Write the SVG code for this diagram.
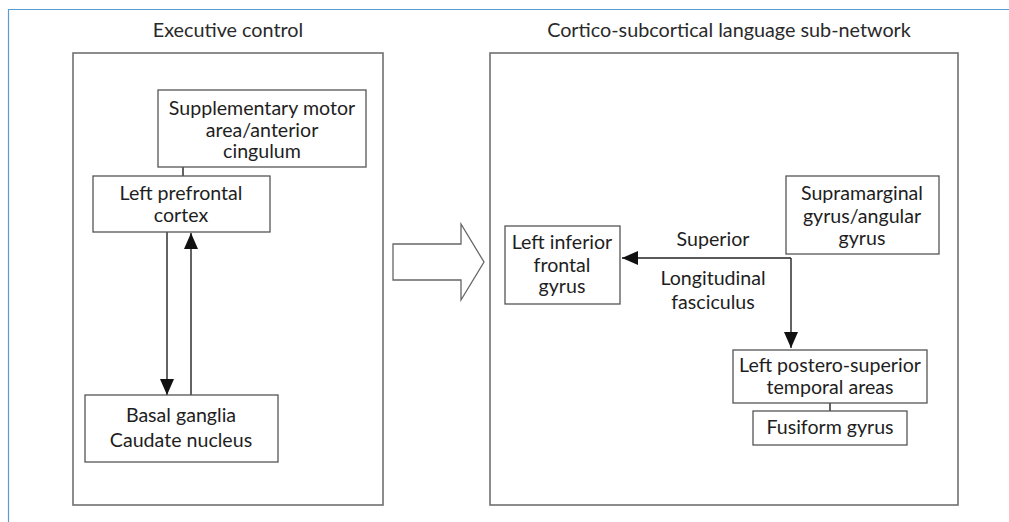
<svg xmlns="http://www.w3.org/2000/svg" width="1009" height="522" viewBox="0 0 1009 522">
  <style>
    .frame { fill: none; stroke: #5b9bd5; stroke-width: 1.2; }
    .panel { fill: #ffffff; stroke: #707070; stroke-width: 1.6; }
    .box { fill: #ffffff; stroke: #555555; stroke-width: 1.3; }
    .line { fill: none; stroke: #222222; stroke-width: 1.4; }
    .title { font-family: Lato, "Liberation Sans", sans-serif; font-size: 19.8px; fill: #2a2a2a; text-anchor: middle; }
    .label { font-family: Lato, "Liberation Sans", sans-serif; font-size: 19.6px; fill: #1e1e1e; text-anchor: middle; }
  </style>
  <defs>
    <marker id="arrowBig" viewBox="0 0 16 14" refX="16" refY="7" markerWidth="16" markerHeight="14" markerUnits="userSpaceOnUse" orient="auto">
      <path d="M0,0 L16,7 L0,14 z" fill="#111111"/>
    </marker>
  </defs>

  <rect width="1009" height="522" fill="#ffffff"/>
  <!-- outer frame -->
  <path class="frame" d="M1009,9.5 L8.5,9.5 L8.5,522"/>

  <!-- panel titles -->
  <text class="title" x="228" y="37">Executive control</text>
  <text class="title" x="729" y="37">Cortico-subcortical language sub-network</text>

  <!-- panels -->
  <rect class="panel" x="73" y="53" width="310" height="452"/>
  <rect class="panel" x="490" y="53" width="468" height="452"/>

  <!-- hollow transition arrow -->
  <path d="M393,244 L461,244 L461,224 L484,262 L461,300 L461,280 L393,280 z" fill="#ffffff" stroke="#666666" stroke-width="1.3"/>

  <!-- connectors -->
  <g id="connectors">
    <line class="line" x1="183" y1="167" x2="183" y2="176"/>
    <line class="line" x1="167" y1="232" x2="167" y2="395" marker-end="url(#arrowBig)"/>
    <line class="line" x1="191" y1="395" x2="191" y2="233" marker-end="url(#arrowBig)"/>
    <polyline class="line" points="791,258 622,258" marker-end="url(#arrowBig)"/>
    <polyline class="line" points="791,258 791,348" marker-end="url(#arrowBig)"/>
    <line class="line" x1="830" y1="403" x2="830" y2="411"/>
    <text class="label" x="713" y="246">Superior</text>
    <text class="label" x="713" y="285">Longitudinal</text>
    <text class="label" x="713" y="309">fasciculus</text>
  </g>

  <!-- executive control nodes -->
  <g id="sma">
    <rect class="box" x="158" y="90" width="208" height="77"/>
    <text class="label" x="262" y="115">Supplementary motor</text>
    <text class="label" x="262" y="137">area/anterior</text>
    <text class="label" x="262" y="158">cingulum</text>
  </g>
  <g id="pfc">
    <rect class="box" x="93" y="176" width="177" height="56"/>
    <text class="label" x="181" y="200">Left prefrontal</text>
    <text class="label" x="181" y="222">cortex</text>
  </g>
  <g id="basal">
    <rect class="box" x="85" y="395" width="193" height="67"/>
    <text class="label" x="181" y="422">Basal ganglia</text>
    <text class="label" x="181" y="447">Caudate nucleus</text>
  </g>

  <!-- language network nodes -->
  <g id="ifg">
    <rect class="box" x="505" y="226" width="115" height="78"/>
    <text class="label" x="562" y="249">Left inferior</text>
    <text class="label" x="562" y="272">frontal</text>
    <text class="label" x="562" y="293">gyrus</text>
  </g>
  <g id="smg">
    <rect class="box" x="786" y="176" width="153" height="78"/>
    <text class="label" x="862" y="200">Supramarginal</text>
    <text class="label" x="862" y="223">gyrus/angular</text>
    <text class="label" x="862" y="245">gyrus</text>
  </g>
  <g id="pst">
    <rect class="box" x="733" y="350" width="194" height="53"/>
    <text class="label" x="830" y="372">Left postero-superior</text>
    <text class="label" x="830" y="394">temporal areas</text>
  </g>
  <g id="fusiform">
    <rect class="box" x="753" y="411" width="154" height="34"/>
    <text class="label" x="830" y="434">Fusiform gyrus</text>
  </g>
</svg>
